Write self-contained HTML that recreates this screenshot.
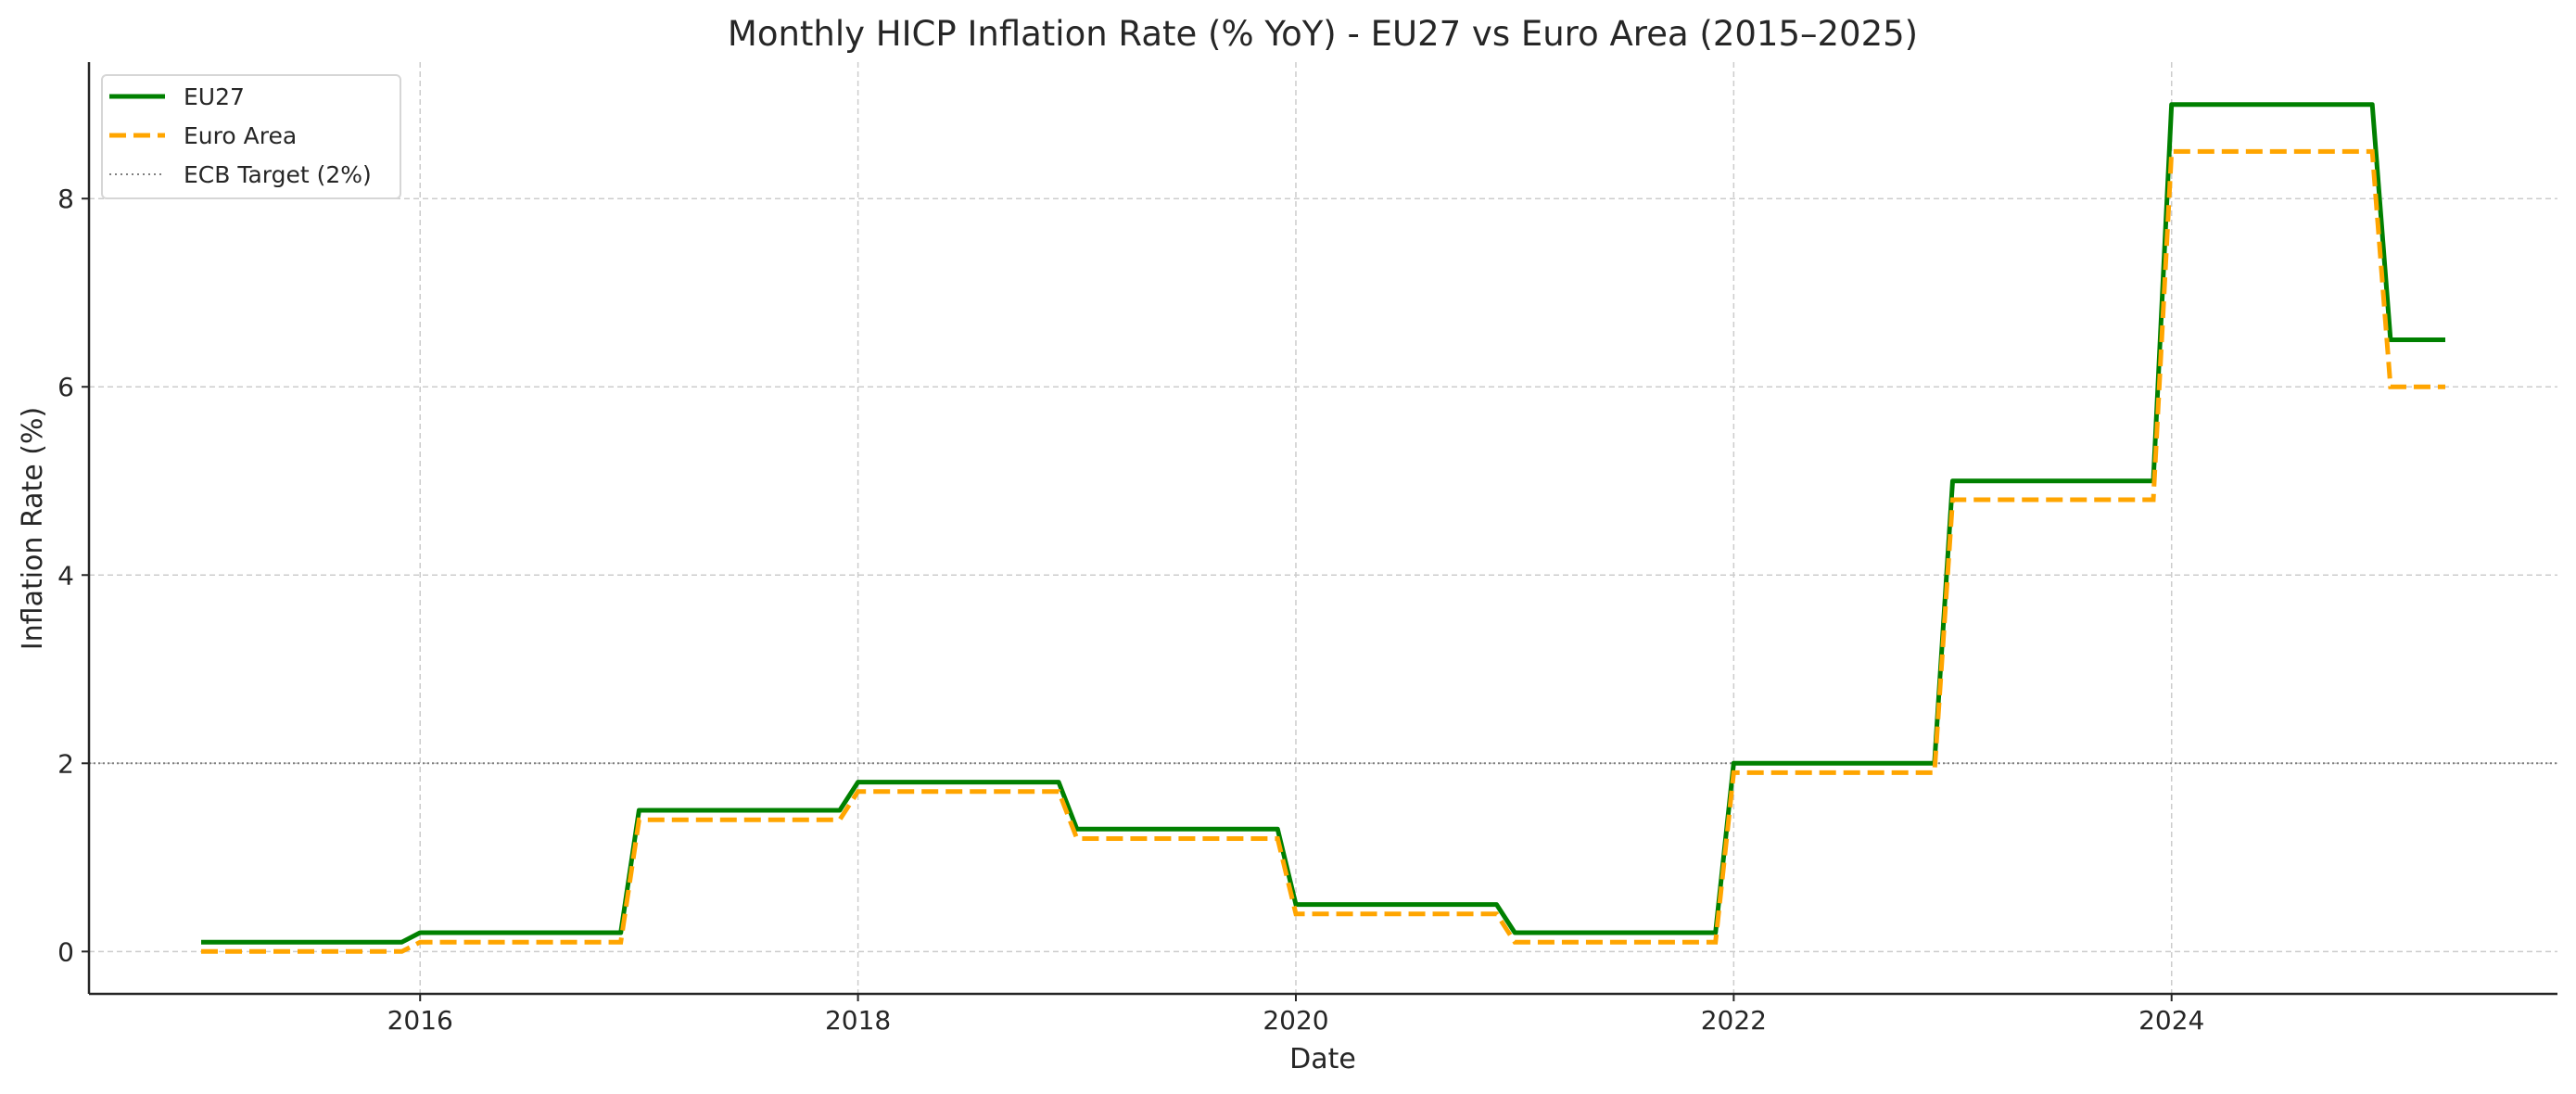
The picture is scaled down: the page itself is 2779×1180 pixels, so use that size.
<!DOCTYPE html>
<html><head><meta charset="utf-8"><style>
html,body{margin:0;padding:0;background:#fff;}
svg{display:block;font-family:"DejaVu Sans","Liberation Sans",sans-serif;}
</style></head><body>
<svg id="chart" width="2779" height="1180" xmlns="http://www.w3.org/2000/svg">
<rect width="2779" height="1180" fill="#fff"/>
<text x="1427" y="49" font-size="37" fill="#262626" text-anchor="middle">Monthly HICP Inflation Rate (% YoY) - EU27 vs Euro Area (2015–2025)</text>
<g id="grid"></g>
<g id="series"></g>
<g id="axes"></g>
<text x="1427" y="1152" font-size="30" fill="#262626" text-anchor="middle">Date</text>
<text transform="translate(45,570) rotate(-90)" font-size="30" fill="#262626" text-anchor="middle">Inflation Rate (%)</text>
<g>
<rect x="110" y="81" width="322" height="133" rx="5" fill="#fff" fill-opacity="0.8" stroke="#d6d6d6" stroke-width="2"/>
<line x1="118" y1="104" x2="178" y2="104" stroke="#008000" stroke-width="5"/>
<text x="198" y="113" font-size="25" fill="#262626">EU27</text>
<line x1="118" y1="146" x2="178" y2="146" stroke="#FFA500" stroke-width="5" stroke-dasharray="18,8"/>
<text x="198" y="155" font-size="25" fill="#262626">Euro Area</text>
<line x1="118" y1="188" x2="178" y2="188" stroke="#7f7f7f" stroke-width="2" stroke-dasharray="2,4"/>
<text x="198" y="197" font-size="25" fill="#262626">ECB Target (2%)</text>
</g>
</svg>
<script>
const years = [2015,2016,2017,2018,2019,2020,2021,2022,2023,2024,2025];
const eu27Values = [0.1,0.2,1.5,1.8,1.3,0.5,0.2,2.0,5.0,9.0,6.5];
const euroAreaValues = [0.0,0.1,1.4,1.7,1.2,0.4,0.1,1.9,4.8,8.5,6.0];
const monthsInLastYear = 4;
const targetValue = 2;
const xTickLabels = ["2016","2018","2020","2022","2024"];
const yTickLabels = ["0","2","4","6","8"];

const NS="http://www.w3.org/2000/svg";
const L=96,R=2759,T=67,B=1072;
const xMin=2014.4875,xMax=2025.7625,yMin=-0.45,yMax=9.45;
const xs=v=>L+(v-xMin)/(xMax-xMin)*(R-L);
const ys=v=>B-(v-yMin)/(yMax-yMin)*(B-T);
function mk(tag,attrs,parent){const e=document.createElementNS(NS,tag);for(const k in attrs)e.setAttribute(k,attrs[k]);parent.appendChild(e);return e;}
const grid=document.getElementById('grid'),axes=document.getElementById('axes'),series=document.getElementById('series');

xTickLabels.forEach(t=>{const x=xs(+t);
 const g=mk('line',{x1:x,y1:T,x2:x,y2:B,stroke:'#cccccc','stroke-width':1.5,'stroke-dasharray':'6,4'},grid);
 
 
 const tk=mk('line',{x1:x,y1:B,x2:x,y2:B+8,stroke:'#262626','stroke-width':2},axes);
 
 
 const tx=mk('text',{x:x,y:B+38,'font-size':28,fill:'#262626','text-anchor':'middle'},axes);
 tx.textContent=t;
 
 
});
yTickLabels.forEach(t=>{const y=ys(+t);
 const g=mk('line',{x1:L,y1:y,x2:R,y2:y,stroke:'#cccccc','stroke-width':1.5,'stroke-dasharray':'6,4'},grid);
 
 
 const tk=mk('line',{x1:L-8,y1:y,x2:L,y2:y,stroke:'#262626','stroke-width':2},axes);
 
 
 const tx=mk('text',{x:L-16,y:y+10,'font-size':28,fill:'#262626','text-anchor':'end'},axes);
 tx.textContent=t;
 
 
});
const tl=mk('line',{x1:L,y1:ys(targetValue),x2:R,y2:ys(targetValue),stroke:'#7f7f7f','stroke-width':2,'stroke-dasharray':'2,3'},series);



function pts(vals){const p=[];years.forEach((y,i)=>{const n=i===years.length-1?monthsInLastYear:12;for(let m=0;m<n;m++)p.push(xs(y+m/12).toFixed(1)+','+ys(vals[i]).toFixed(1));});return p.join(' ');}
const eu=mk('polyline',{points:pts(eu27Values),fill:'none',stroke:'#008000','stroke-width':5,'stroke-linejoin':'round'},series);


const ea=mk('polyline',{points:pts(euroAreaValues),fill:'none',stroke:'#FFA500','stroke-width':5,'stroke-dasharray':'18,8'},series);



const la=mk('line',{x1:L,y1:T,x2:L,y2:B,stroke:'#262626','stroke-width':2.5},axes);


const ba=mk('line',{x1:L,y1:B,x2:R,y2:B,stroke:'#262626','stroke-width':2.5},axes);


</script>
</body></html>
